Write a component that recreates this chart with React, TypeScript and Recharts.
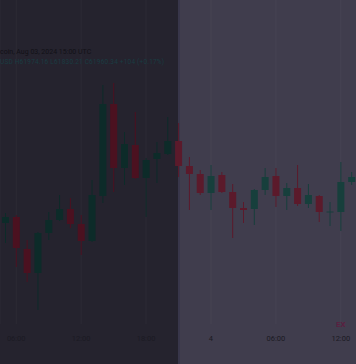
import React from 'react'
import {ComposedChart, Bar, XAxis, YAxis, CartesianGrid} from 'recharts'

// hourly candles, Aug 3 05:00 -> Aug 4 13:00
const times = [
    '3 05:00', '3 06:00', '3 07:00', '3 08:00', '3 09:00', '3 10:00', '3 11:00', '3 12:00',
    '3 13:00', '3 14:00', '3 15:00', '3 16:00', '3 17:00', '3 18:00', '3 19:00', '3 20:00',
    '3 21:00', '3 22:00', '3 23:00', '4 00:00', '4 01:00', '4 02:00', '4 03:00', '4 04:00',
    '4 05:00', '4 06:00', '4 07:00', '4 08:00', '4 09:00', '4 10:00', '4 11:00', '4 12:00',
    '4 13:00',
]
const opens = [
    59940, 60060, 59420, 58940, 59740, 60000, 60220, 59920, 59580, 60480, 62320, 61040, 61500, 60840, 61220, 61320,
    61580, 61080, 60920, 60540, 60900, 60560, 60240, 60220, 60600, 60880, 60480, 60640, 60320, 60480, 60150, 60160,
    60760,
]
const highs = [
    60140, 60100, 59600, 59760, 60160, 60500, 60440, 60100, 60800, 62700, 62740, 61760, 62160, 61240, 61560, 62060,
    61940, 61260, 61000, 61100, 60960, 60720, 60360, 60620, 61040, 61040, 60740, 61100, 60720, 60500, 60360, 61160,
    60960,
]
const lows = [
    59540, 59060, 58760, 58200, 59600, 59980, 59840, 59300, 59560, 60340, 60560, 60700, 60820, 60060, 60740, 61300,
    60860, 60200, 60500, 60200, 60540, 59640, 59940, 59900, 60500, 60260, 60200, 60280, 60240, 59960, 59880, 59780,
    60700,
]
const closes = [
    60060, 59440, 58940, 59740, 60000, 60220, 59920, 59580, 60500, 62320, 61040, 61520, 60840, 61200, 61340, 61580,
    61080, 60920, 60540, 60880, 60560, 60240, 60200, 60600, 60860, 60480, 60640, 60320, 60500, 60160, 60170, 60760,
    60860,
]
const tickKeys = ['3 06:00', '3 12:00', '3 18:00', '4 00:00', '4 06:00', '4 12:00']
const tickLabels = ['06:00', '12:00', '18:00', '4', '06:00', '12:00']

const data = times.map((t, i) => ({
    t,
    open: opens[i],
    high: highs[i],
    low: lows[i],
    close: closes[i],
    idx: i,
}))

const Candle = (props: any) => {
    const {x, y, width, height, payload} = props
    if (!payload) return null
    const top = Math.min(y, y + height)
    const h = Math.abs(height)
    const range = payload.high - payload.low || 1
    const k = h / range
    const up = payload.close >= payload.open
    const dark = payload.idx < 16
    const color = up ? (dark ? '#0d2b29' : '#173f3c') : (dark ? '#4b1120' : '#5b1a2b')
    const bTop = top + (payload.high - Math.max(payload.open, payload.close)) * k
    const bH = Math.max(1, Math.abs(payload.open - payload.close) * k)
    const cx = x + width / 2
    return (
        <g>
            <line x1={cx} x2={cx} y1={top} y2={top + h} stroke={color} strokeWidth={1}/>
            <rect x={x} y={bTop} width={width} height={bH} fill={color}/>
        </g>
    )
}

export default function App() {
    return (
        <div style={{position: 'absolute', left: 0, top: 0, width: 356, height: 364, overflow: 'hidden', background: '#403d4d'}}>
            <div style={{position: 'absolute', left: 0, top: 0, width: 178, height: 364, background: '#25232e'}}/>
            <div style={{position: 'absolute', left: 178, top: 0, width: 2, height: 364, background: '#38364a'}}/>
            <div style={{position: 'absolute', left: 0, top: 0}}>
                <ComposedChart width={357} height={364} data={data} margin={{top: 0, right: 0, bottom: 0, left: 0}}>
                    <CartesianGrid vertical={true} horizontal={false} stroke="rgba(255,255,255,0.035)"/>
                    <XAxis
                        dataKey="t"
                        ticks={tickKeys}
                        interval={0}
                        height={40}
                        axisLine={false}
                        tickLine={false}
                        tickFormatter={(v: string) => tickLabels[tickKeys.indexOf(v)] ?? ''}
                        tick={{fill: '#1b1a23', fontSize: 7.5, fontFamily: 'Roboto', dy: 4}}
                    />
                    <YAxis hide domain={[57920, 64400]}/>
                    <Bar dataKey={(d: any) => [d.low, d.high]} barSize={7} shape={<Candle/>} isAnimationActive={false}/>
                </ComposedChart>
            </div>
            <div style={{position: 'absolute', left: 0, top: 48, fontFamily: 'Roboto', fontSize: 7, color: '#121117', whiteSpace: 'nowrap'}}>
                coin, Aug 03, 2024 15:00 UTC
            </div>
            <div style={{position: 'absolute', left: 0, top: 58, fontFamily: 'Roboto', fontSize: 6.5, color: '#1a3c42', whiteSpace: 'nowrap', letterSpacing: 0.2}}>
                USD  H61974.16  L61830.21  C61960.34  +104  (+0.17%)
            </div>
            <div style={{position: 'absolute', left: 336, top: 320, fontFamily: 'Roboto', fontSize: 8, fontWeight: 700, color: '#5a2040'}}>
                EX
            </div>
        </div>
    )
}
